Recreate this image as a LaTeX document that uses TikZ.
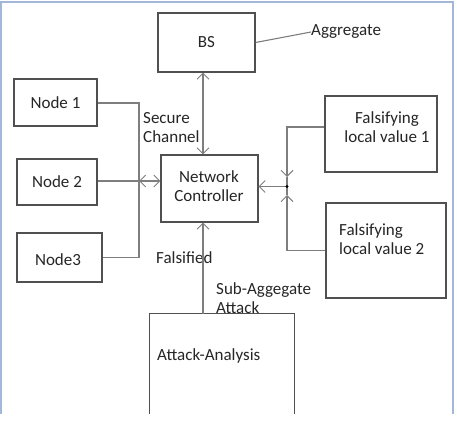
\documentclass[tikz,border=0pt]{standalone}
\usepackage{fontspec}
\setmainfont{Carlito}
\usetikzlibrary{arrows.meta}
\definecolor{framec}{HTML}{A3B7D8}
\definecolor{boxc}{HTML}{505050}
\definecolor{linec}{HTML}{7E7E7E}
\definecolor{txtc}{HTML}{262626}
\begin{document}
\begin{tikzpicture}[x=1pt,y=-1pt,
  box/.style={draw=boxc,line width=1.2pt,inner sep=0pt,text=txtc,font=\fontsize{17}{19}\selectfont},
  lbl/.style={inner sep=0pt,text=txtc,font=\fontsize{17}{19}\selectfont,align=left},
  conn/.style={draw=linec,line width=1.1pt},
  tip/.style={arrows={-{Straight Barb[length=6pt,width=12pt,line width=0.9pt]}}},
  tips/.style={arrows={{Straight Barb[length=6pt,width=12pt,line width=0.9pt]}-{Straight Barb[length=6pt,width=12pt,line width=0.9pt]}}}]
\useasboundingbox (0,0) rectangle (457,422);
\fill[white] (0,0) rectangle (457,422);
% outer frame (open at the bottom)
\draw[framec,line width=2pt] (1,414) -- (1,2.5) -- (453,2.5) -- (453,414);
% boxes
\node[box,minimum width=97pt,minimum height=59pt] (bs) at (206.5,42.5) {BS};
\node[box,minimum width=83pt,minimum height=47pt] (n1) at (55.5,102.5) {Node 1};
\node[box,minimum width=80pt,minimum height=46pt] (n2) at (57,182) {Node 2};
\node[box,minimum width=85pt,minimum height=49pt] (n3) at (59.5,257.5) {};
\node[lbl] (n3t) at (58,260) {Node3};
\node[box,minimum width=97pt,minimum height=67pt,align=center] (nc) at (209.5,188.5) {};
\node[lbl,align=center] (nct) at (209,186) {Network\\Controller};
\node[box,minimum width=112pt,minimum height=76pt] (f1) at (381,134) {};
\node[lbl,align=center] (f1t) at (387,127.5) {Falsifying\\local value 1};
\node[box,minimum width=120pt,minimum height=95pt] (f2) at (386,250.5) {};
\node[lbl,anchor=west] (f2t) at (339,239) {Falsifying\\local value 2};
\node[inner sep=0pt,minimum width=144pt,minimum height=100pt] (aa) at (222,364) {};
\draw[boxc,line width=1.2pt] (aa.south west) -- (aa.north west) -- (aa.north east) -- (aa.south east);
\node[lbl,anchor=west] (aat) at (157,356) {Attack-Analysis};
% labels
\node[lbl,anchor=west] (agg) at (311,32) {Aggregate};
\node[lbl,anchor=west] (sc) at (143,127.5) {Secure\\Channel};
\node[lbl,anchor=west] (fal) at (156,258) {Falsified};
\node[lbl,anchor=west] (sub) at (216,298) {Sub-Aggegate\\Attack};
% helper coordinates
\coordinate (xb) at (203,0);
\coordinate (jl) at (139,181);
\coordinate (jr) at (287,186.5);
\coordinate (r1) at (287,127);
\coordinate (jra) at (287,177);
\coordinate (jrb) at (287,195);
% connectors
\draw[conn] (bs.east) -- (agg.west);
\draw[conn] (n1.east |- 0,103) -| (jl) |- (n3.east);
\draw[conn] (n2.east |- jl) -- (jl);
\draw[conn,tips] (jl) -- (jl -| nc.west);
\draw[conn,tips] (bs.south -| xb) -- (nc.north -| xb);
\draw[conn,tip] (aa.north -| xb) -- (nc.south -| xb);
\draw[conn,tip] (f1.west |- r1) -- (r1) -- (jra);
\draw[conn] (jra) -- (jr);
\draw[conn,tip] (f2.west) -| (jrb);
\draw[conn] (jrb) -- (jr);
\draw[conn,tip] (jr) -- (jr -| nc.east);
\fill[black] (jr) circle (1.6pt);
\end{tikzpicture}
\end{document}
